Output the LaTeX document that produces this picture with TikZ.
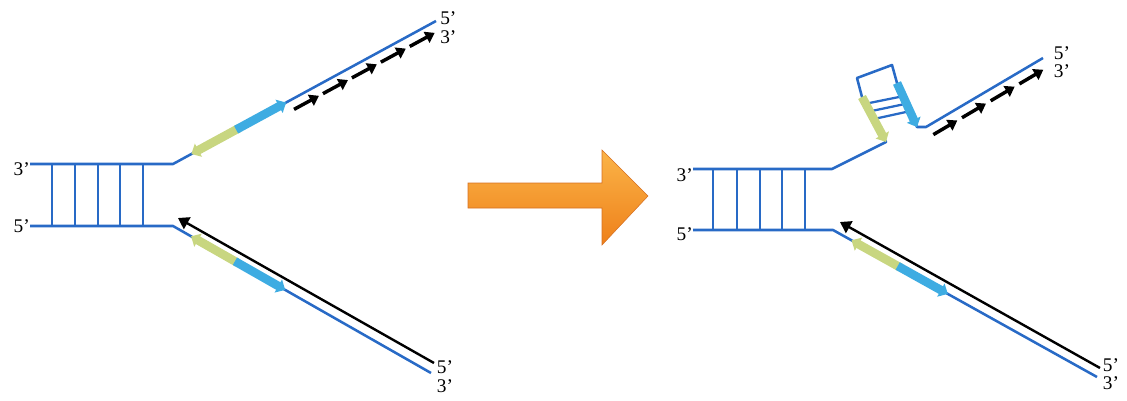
\documentclass[tikz,border=0pt]{standalone}
\usepackage{fontspec}
\setmainfont{Liberation Serif}
\usetikzlibrary{positioning}
\usetikzlibrary{calc}
\usetikzlibrary{arrows.meta}

\definecolor{strandblue}{RGB}{40,106,198}
\definecolor{primergreen}{RGB}{200,214,128}
\definecolor{primercyan}{RGB}{62,172,226}
\definecolor{fwdlight}{RGB}{251,180,72}
\definecolor{fwddark}{RGB}{238,128,26}
\definecolor{fwdedge}{RGB}{214,112,34}

\begin{document}
\begin{tikzpicture}[x=0.75pt,y=-0.75pt]
% Styles:
\tikzset{strand/.style={draw=strandblue, line width=1.9pt, line join=round}}
\tikzset{rung/.style={draw=strandblue, line width=1.7pt}}
\tikzset{lbl/.style={inner sep=0pt, font=\fontsize{14.5}{14.5}\selectfont}}
\tikzset{primerg/.style={draw=primergreen, line width=6.5pt, -{Triangle[length=6pt, width=11pt]}}}
\tikzset{primerc/.style={draw=primercyan, line width=6.5pt, -{Triangle[length=6pt, width=11pt]}}}
\tikzset{okazaki/.style={draw=black, line width=2.6pt, -{Triangle[length=7pt, width=9pt]}}}
\tikzset{leading/.style={draw=black, line width=1.8pt, -{Triangle[length=8pt, width=10pt]}}}

\useasboundingbox (0,0) rectangle (1127,400);

% Left fork:
\coordinate (L3)    at (30,164);
\coordinate (L5)    at (30,226);
\coordinate (Lt)    at (173,164);
\coordinate (Lb)    at (173,226);
\coordinate (Ltop)  at (436,21);
\coordinate (Lbot)  at (431,373);
\coordinate (Llead) at (434,363);
\coordinate (Ltip)  at (178,218);

\foreach \x in {52,75,98,120,143}
  \draw[rung] (\x,0 |- L3) -- (\x,0 |- L5);
\draw[strand] (L3) -- (Lt) -- (Ltop);
\draw[strand] (L5) -- (Lb) -- (Lbot);

\draw[primerg] ($(Lt)!0.25!(Ltop)$) -- ($(Lt)!0.07!(Ltop)$);
\draw[primerc] ($(Lt)!0.24!(Ltop)$) -- ($(Lt)!0.43!(Ltop)$);
\foreach \s/\t in {0.445/0.54, 0.555/0.65, 0.665/0.76, 0.775/0.87, 0.885/0.98}
  \draw[okazaki] ($(Lt)!\s!(Ltop)+(4,9)$) -- ($(Lt)!\t!(Ltop)+(4,9)$);

\draw[primerg] ($(Lb)!0.25!(Lbot)$) -- ($(Lb)!0.07!(Lbot)$);
\draw[primerc] ($(Lb)!0.24!(Lbot)$) -- ($(Lb)!0.435!(Lbot)$);
\draw[leading] (Llead) -- (Ltip);

\node[lbl, left=0pt of L3, yshift=-3.5pt] (l3) {3'};
\node[lbl, left=0pt of L5] (l5) {5'};
\node[lbl, right=3pt of Ltop, yshift=2pt] (lt5) {5'};
\node[lbl] (lt3) at ([yshift=-14pt]lt5) {3'};
\node[lbl, right=2pt of Llead, yshift=-3pt] (lb5) {5'};
\node[lbl] (lb3) at ([yshift=-14pt]lb5) {3'};

% Big arrow:
\shade[top color=fwdlight, bottom color=fwddark, draw=fwdedge, line width=0.4pt]
  (468,183) -- (602,183) -- (602,150) -- (648,196) -- (602,245) -- (602,208) -- (468,208) -- cycle;

% Right fork with hairpin:
\coordinate (R3)    at (693,169);
\coordinate (R5)    at (693,230);
\coordinate (Rt)    at (832,169);
\coordinate (Rb)    at (833,230);
\coordinate (G1)    at (886,142);
\coordinate (G2)    at (862,97);
\coordinate (C1)    at (857,78);
\coordinate (C2)    at (892,65);
\coordinate (B1)    at (897,83);
\coordinate (B2)    at (917,127);
\coordinate (K)     at (926,127);
\coordinate (Rtop)  at (1043,58);
\coordinate (Rbot)  at (1097,377);
\coordinate (Rlead) at (1100,368);
\coordinate (Rtip)  at (840,222);

\foreach \x in {713,737,760,782,805}
  \draw[rung] (\x,0 |- R3) -- (\x,0 |- R5);
\foreach \g/\b in {0.15/0.30, 0.32/0.47, 0.49/0.64}
  \draw[rung] ($(G2)!\g!(G1)$) -- ($(B1)!\b!(B2)$);
\draw[strand] (R3) -- (Rt) -- (G1) -- (G2) -- (C1) -- (C2) -- (B1) -- (B2) -- (K) -- (Rtop);
\draw[strand] (R5) -- (Rb) -- (Rbot);

\draw[primerg] (G2) -- (G1);
\draw[primerc] (B1) -- (B2);
\foreach \s/\t in {0.02/0.225, 0.265/0.47, 0.51/0.715, 0.755/0.96}
  \draw[okazaki] ($(K)!\s!(Rtop)+(5,9)$) -- ($(K)!\t!(Rtop)+(5,9)$);

\draw[primerg] ($(Rb)!0.255!(Rbot)$) -- ($(Rb)!0.07!(Rbot)$);
\draw[primerc] ($(Rb)!0.245!(Rbot)$) -- ($(Rb)!0.435!(Rbot)$);
\draw[leading] (Rlead) -- (Rtip);

\node[lbl, left=0pt of R3, yshift=-4.5pt] (r3) {3'};
\node[lbl, left=0pt of R5, yshift=-3.4pt] (r5) {5'};
\node[lbl, right=8pt of Rtop, yshift=4pt] (rt5) {5'};
\node[lbl] (rt3) at ([yshift=-14pt]rt5) {3'};
\node[lbl, right=2pt of Rlead, yshift=2.5pt] (rb5) {5'};
\node[lbl] (rb3) at ([yshift=-14pt]rb5) {3'};
\end{tikzpicture}
\end{document}
